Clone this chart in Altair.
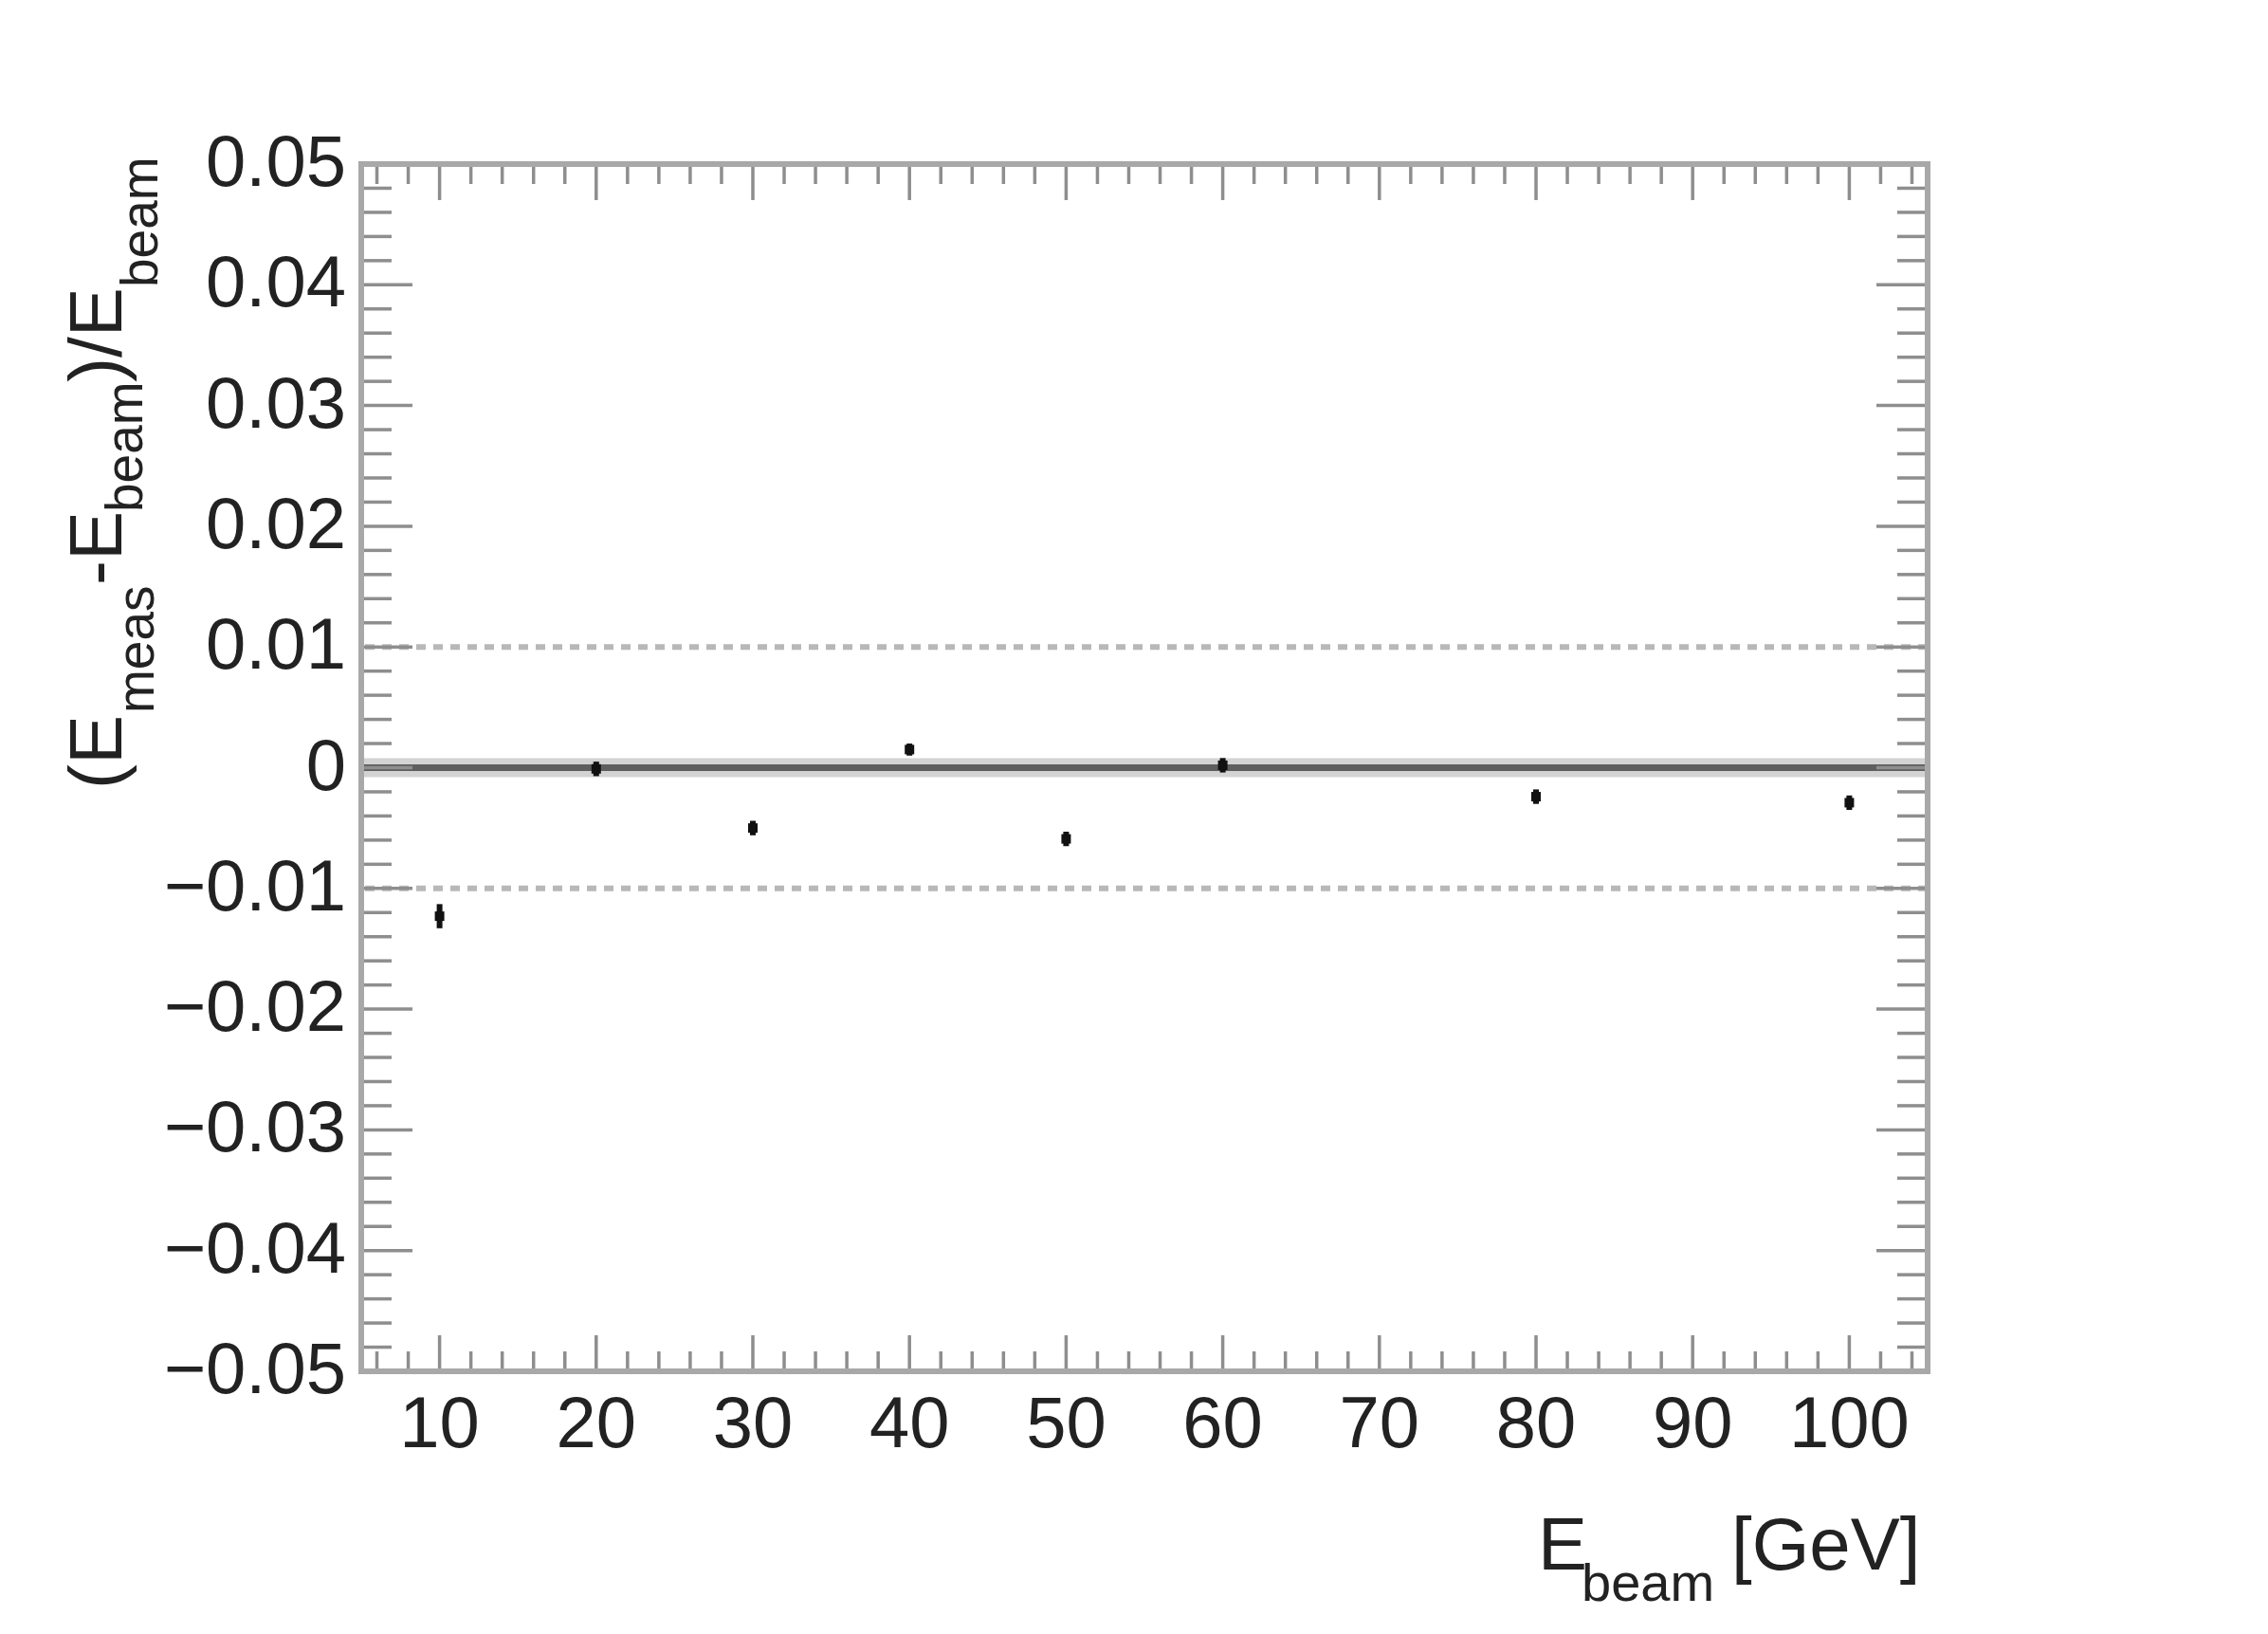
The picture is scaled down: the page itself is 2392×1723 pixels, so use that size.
import altair as alt
import pandas as pd

# ---- data ----
e_beam = [10, 20, 30, 40, 50, 60, 80, 100]
rel_dev = [-0.0123, -0.0001, -0.0050, 0.0015, -0.0059, 0.0002, -0.0024, -0.0029]
rel_err = [0.0010, 0.0006, 0.0006, 0.0005, 0.0006, 0.0006, 0.0006, 0.0006]

x_major = [10, 20, 30, 40, 50, 60, 70, 80, 90, 100]
x_labels = ["10", "20", "30", "40", "50", "60", "70", "80", "90", "100"]
x_minor = [v for v in range(6, 106, 2) if v % 10 != 0]
y_major = [-0.05, -0.04, -0.03, -0.02, -0.01, 0.0, 0.01, 0.02, 0.03, 0.04, 0.05]
y_labels = ["\u22120.05", "\u22120.04", "\u22120.03", "\u22120.02", "\u22120.01", "0",
            "0.01", "0.02", "0.03", "0.04", "0.05"]
y_minor = [round(-0.05 + 0.002 * i, 3) for i in range(1, 50) if i % 5 != 0]
zero_line = [0.0]
band_lines = [-0.01, 0.01]
x_range = [5, 105]
y_range = [-0.05, 0.05]

W, H = 1652, 1273
FONT = "Liberation Sans"
TXT = "#222222"
TICK = "#8e8e8e"
FRAME = "#a8a8a8"

xs = alt.Scale(domain=x_range, nice=False, zero=False)
ys = alt.Scale(domain=y_range, nice=False, zero=False)

pts = pd.DataFrame({"x": e_beam, "y": rel_dev, "e": rel_err})
pts["lo"] = pts["y"] - pts["e"]
pts["hi"] = pts["y"] + pts["e"]


def tick_x(vals, length, top):
    base = alt.Chart(pd.DataFrame({"v": vals})).mark_rule(color=TICK, strokeWidth=3.5)
    if top:
        return base.encode(x=alt.X("v:Q", scale=xs, axis=None), y=alt.value(0), y2=alt.value(length))
    return base.encode(x=alt.X("v:Q", scale=xs, axis=None), y=alt.value(H), y2=alt.value(H - length))


def tick_y(vals, length, right):
    base = alt.Chart(pd.DataFrame({"v": vals})).mark_rule(color=TICK, strokeWidth=3.5)
    if right:
        return base.encode(y=alt.Y("v:Q", scale=ys, axis=None), x=alt.value(W), x2=alt.value(W - length))
    return base.encode(y=alt.Y("v:Q", scale=ys, axis=None), x=alt.value(0), x2=alt.value(length))


def piece(txt, x, y, size, angle=0):
    return alt.Chart(alt.Data(values=[{}])).mark_text(
        text=txt, font=FONT, fontSize=size, angle=angle, align="left",
        baseline="alphabetic", color=TXT
    ).encode(x=alt.value(x), y=alt.value(y))


# frame along the scale limits
frame_v = alt.Chart(pd.DataFrame({"v": x_range})).mark_rule(color=FRAME, strokeWidth=6).encode(
    x=alt.X("v:Q", scale=xs, axis=None), y=alt.value(-3), y2=alt.value(H + 3))
frame_h = alt.Chart(pd.DataFrame({"v": y_range})).mark_rule(color=FRAME, strokeWidth=6).encode(
    y=alt.Y("v:Q", scale=ys, axis=None), x=alt.value(-3), x2=alt.value(W + 3))

zero_halo = alt.Chart(pd.DataFrame({"v": zero_line})).mark_rule(
    color="#d3d3d3", strokeWidth=20).encode(y=alt.Y("v:Q", scale=ys, axis=None))
zero_core = alt.Chart(pd.DataFrame({"v": zero_line})).mark_rule(
    color="#5e5e5e", strokeWidth=7).encode(y=alt.Y("v:Q", scale=ys, axis=None))
bands = alt.Chart(pd.DataFrame({"v": band_lines})).mark_rule(
    color="#b8b8b8", strokeWidth=6, strokeDash=[10, 8]).encode(y=alt.Y("v:Q", scale=ys, axis=None))

err = alt.Chart(pts).mark_rule(color="#111111", strokeWidth=6).encode(
    x=alt.X("x:Q", scale=xs, axis=None),
    y=alt.Y("lo:Q", scale=ys, axis=None),
    y2="hi:Q",
)
points = alt.Chart(pts).mark_point(shape="square", filled=True, size=100, color="#111111", opacity=1).encode(
    x=alt.X("x:Q", scale=xs, axis=None),
    y=alt.Y("y:Q", scale=ys, axis=None),
)

# tick labels drawn through the scales
xlab = alt.Chart(pd.DataFrame({"v": x_major, "t": x_labels})).mark_text(
    font=FONT, fontSize=76, color=TXT, align="center", baseline="top", dy=20
).encode(x=alt.X("v:Q", scale=xs, axis=None), y=alt.value(H), text="t:N")
ylab = alt.Chart(pd.DataFrame({"v": y_major, "t": y_labels})).mark_text(
    font=FONT, fontSize=76, color=TXT, align="right", baseline="middle", dx=-16
).encode(y=alt.Y("v:Q", scale=ys, axis=None), x=alt.value(0), text="t:N")

# axis titles with subscripts (positions relative to the plot origin)
ytitle = [
    piece("(E", -253, 659, 78, 270),
    piece("meas", -219, 579, 55, 270),
    piece("-E", -253, 444, 78, 270),
    piece("beam", -231, 367, 55, 270),
    piece(")/E", -253, 230, 78, 270),
    piece("beam", -215, 130, 55, 270),
]
xtitle = [
    piece("E", 1241, 1482, 78),
    piece("beam", 1287, 1515, 56),
    piece("[GeV]", 1445, 1482, 78),
]

chart = alt.layer(
    zero_halo, zero_core, bands,
    tick_x(x_major, 38, False), tick_x(x_minor, 21, False),
    tick_x(x_major, 38, True), tick_x(x_minor, 21, True),
    tick_y(y_major, 54, False), tick_y(y_minor, 32, False),
    tick_y(y_major, 54, True), tick_y(y_minor, 32, True),
    frame_v, frame_h,
    err, points, xlab, ylab,
    *ytitle, *xtitle,
).properties(
    width=W, height=H,
    autosize=alt.AutoSizeParams(type="none"),
    padding={"left": 373, "top": 165, "right": 300, "bottom": 260},
).configure_view(
    stroke=None
).configure(background="white")

chart.save("out.html", embed_options={"renderer": "svg", "actions": False})
